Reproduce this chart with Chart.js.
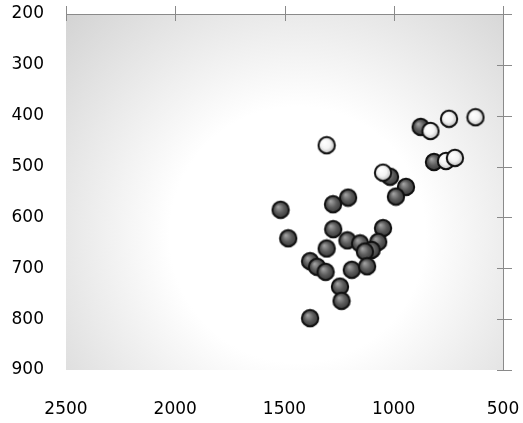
<!DOCTYPE html>
<html>
<head>
<meta charset="utf-8">
<script src="https://cdn.jsdelivr.net/npm/chart.js@4/dist/chart.umd.min.js"></script>
<style>
  html, body { margin: 0; padding: 0; background: #ffffff; }
  #wrap { width: 523px; height: 423px; position: relative; }
</style>
</head>
<body>
<div id="wrap"><canvas id="c"></canvas></div>
<script>
// Axis ranges and tick values
const xTicks = [2500, 2000, 1500, 1000, 500];
const yTicks = [200, 300, 400, 500, 600, 700, 800, 900];

// Dark series
const darkX = [877, 816, 1017, 944, 990, 1209, 1278, 1518, 1483, 1277, 1049, 1212, 1154, 1071, 1101, 1132, 1307, 1383, 1351, 1312, 1192, 1122, 1246, 1239, 1383];
const darkY = [422, 491, 520, 540, 559, 561, 574, 585, 641, 623, 621, 645, 651, 648, 664, 667, 661, 686, 697, 707, 703, 696, 736, 764, 798];

// Light series
const lightX = [1307, 832, 747, 626, 761, 720, 1049];
const lightY = [458, 430, 406, 403, 489, 483, 512];

const toPoints = (xs, ys) => xs.map((x, i) => ({ x: x, y: ys[i] }));

// Shaded ball marker drawn on an offscreen canvas
function makeBall(hi, mid, edge) {
  const s = 20, c = document.createElement('canvas');
  c.width = s; c.height = s;
  const g = c.getContext('2d');
  const cx = s / 2, cy = s / 2, r = 8.2;
  const grad = g.createRadialGradient(cx - 2.5, cy - 3, 0.5, cx, cy, r);
  grad.addColorStop(0, hi);
  grad.addColorStop(0.55, mid);
  grad.addColorStop(1, edge);
  g.beginPath();
  g.arc(cx, cy, r, 0, Math.PI * 2);
  g.fillStyle = grad;
  g.fill();
  g.lineWidth = 2;
  g.strokeStyle = '#111111';
  g.stroke();
  return c;
}
const darkBall = makeBall('#a0a0a0', '#5c5c5c', '#383838');
const lightBall = makeBall('#ffffff', '#f4f4f4', '#bdbdbd');

// Shaded plot background
const backdrop = {
  id: 'backdrop',
  beforeDraw(chart) {
    const { ctx, chartArea: a } = chart;
    const cx = a.left + (a.right - a.left) * 0.53;
    const cy = a.top + (a.bottom - a.top) * 0.62;
    const grad = ctx.createRadialGradient(cx, cy, 0, cx, cy, 320);
    grad.addColorStop(0, '#ffffff');
    grad.addColorStop(0.4, '#ffffff');
    grad.addColorStop(1, '#d3d3d3');
    ctx.save();
    ctx.fillStyle = grad;
    ctx.fillRect(a.left, a.top, a.right - a.left, a.bottom - a.top);
    ctx.restore();
  }
};

// Axis lines along the top and right edges with crossing tick marks
const frame = {
  id: 'frame',
  afterDatasetsDraw(chart) {
    const { ctx, chartArea: a, scales } = chart;
    ctx.save();
    ctx.strokeStyle = '#8a8a8a';
    ctx.lineWidth = 1;
    ctx.beginPath();
    ctx.moveTo(a.left, a.top + 0.5);
    ctx.lineTo(a.right, a.top + 0.5);
    ctx.moveTo(a.right + 0.5, a.top);
    ctx.lineTo(a.right + 0.5, a.bottom);
    xTicks.forEach(v => {
      const px = Math.round(scales.x.getPixelForValue(v)) + 0.5;
      ctx.moveTo(px, a.top - 8);
      ctx.lineTo(px, a.top + 7);
    });
    yTicks.forEach(v => {
      const py = Math.round(scales.y.getPixelForValue(v)) + 0.5;
      ctx.moveTo(a.right - 6, py);
      ctx.lineTo(a.right + 9, py);
    });
    ctx.stroke();
    ctx.restore();
  }
};

const tickFont = { family: 'DejaVu Sans', size: 17 };
const plain = v => String(v);

// Empty spacer axis: reserves a fixed band on one side of the plot
const spacer = (pos, size) => ({
  type: 'linear',
  position: pos,
  display: true,
  min: 0,
  max: 1,
  grid: { display: false, drawTicks: false },
  border: { display: false },
  ticks: { display: false },
  afterFit: s => { if (pos === 'top') { s.height = size; } else { s.width = size; } }
});

new Chart(document.getElementById('c'), {
  type: 'scatter',
  data: {
    datasets: [
      { data: toPoints(lightX, lightY), pointStyle: lightBall, pointRadius: 9, pointHoverRadius: 9 },
      { data: toPoints(darkX, darkY), pointStyle: darkBall, pointRadius: 9, pointHoverRadius: 9 }
    ]
  },
  options: {
    responsive: true,
    maintainAspectRatio: false,
    animation: false,
    events: [],
    layout: { padding: 0 },
    plugins: { legend: { display: false }, tooltip: { enabled: false } },
    scales: {
      x: {
        type: 'linear',
        position: 'bottom',
        reverse: true,
        min: 500,
        max: 2500,
        afterBuildTicks: s => { s.ticks = xTicks.map(v => ({ value: v })); },
        afterFit: s => { s.height = 53; s.paddingLeft = 0; s.paddingRight = 0; },
        grid: { display: false, drawTicks: true, tickLength: 29 },
        border: { display: false },
        ticks: { font: tickFont, color: '#000000', padding: 0, maxRotation: 0, callback: plain }
      },
      y: {
        type: 'linear',
        position: 'left',
        reverse: true,
        min: 200,
        max: 900,
        afterBuildTicks: s => { s.ticks = yTicks.map(v => ({ value: v })); },
        afterFit: s => { s.width = 66; s.paddingTop = 0; s.paddingBottom = 0; },
        grid: { display: false, drawTicks: true, tickLength: 22 },
        border: { display: false },
        ticks: { font: tickFont, color: '#000000', padding: 0, callback: plain }
      },
      xTopBand: spacer('top', 14),
      yRightBand: spacer('right', 20)
    }
  },
  plugins: [backdrop, frame]
});
</script>
</body>
</html>
